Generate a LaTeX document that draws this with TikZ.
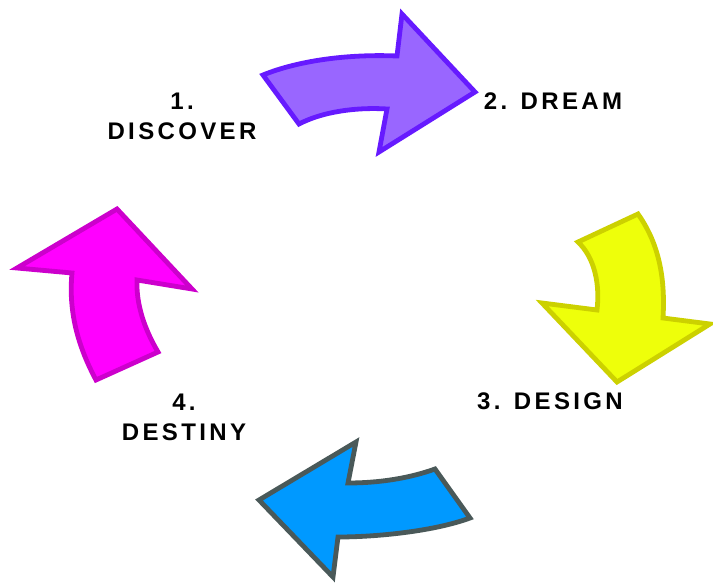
\documentclass[tikz,border=0pt]{standalone}
\usepackage{fontspec}
\setmainfont{Liberation Sans}[LetterSpace=14]
\definecolor{purpfill}{HTML}{9966FF}
\definecolor{purpline}{HTML}{661AFF}
\definecolor{yelfill}{HTML}{EEFF0A}
\definecolor{yelline}{HTML}{CCD100}
\definecolor{bluefill}{HTML}{0099FF}
\definecolor{blueline}{HTML}{4A5959}
\definecolor{magfill}{HTML}{FF00FF}
\definecolor{magline}{HTML}{CC00CC}
\tikzset{
  arrowshape/.style={line width=4.8pt, line join=miter},
  stagelabel/.style={font=\fontsize{24}{30}\selectfont\bfseries, align=center, inner sep=0pt, text=black}
}
\begin{document}
\begin{tikzpicture}[x=1pt,y=-1pt]
\useasboundingbox (0,0) rectangle (713,583);
% purple arrow (discover -> dream)
\draw[arrowshape, draw=purpline, fill=purpfill]
  (263,75) .. controls (300,60) and (350,54) .. (397,56) -- (402,14) -- (475,92) -- (379,152)
  -- (387,109) .. controls (355,107) and (322,112) .. (299,124) -- cycle;
% yellow arrow (dream -> design)
\draw[arrowshape, draw=yelline, fill=yelfill]
  (578,242) -- (638,214) .. controls (655,238) and (666,270) .. (663,318) -- (710,324) -- (617,382)
  -- (542,303) -- (597,310) .. controls (600,285) and (595,258) .. (578,242) -- cycle;
% blue arrow (design -> destiny)
\draw[arrowshape, draw=blueline, fill=bluefill]
  (435,469) -- (470,518) .. controls (435,531) and (378,537) .. (338,537) -- (333,577) -- (259,500)
  -- (356,442) -- (348,483) .. controls (380,483) and (410,478) .. (435,469) -- cycle;
% magenta arrow (destiny -> discover)
\draw[arrowshape, draw=magline, fill=magfill]
  (96,380) -- (158,352) .. controls (145,330) and (136,305) .. (137,280) -- (192,289) -- (117,209)
  -- (17,268) -- (72,273) .. controls (68,315) and (80,350) .. (96,380) -- cycle;
% labels
\node[stagelabel] (discover) at (182,116) {1.\\DISCOVER};
\node[stagelabel] (dream) at (553,101) {2. DREAM};
\node[stagelabel] (design) at (550,401) {3. DESIGN};
\node[stagelabel] (destiny) at (184,417) {4.\\DESTINY};
\end{tikzpicture}
\end{document}
